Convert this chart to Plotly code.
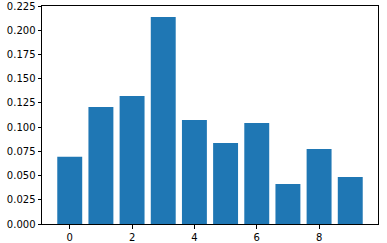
import plotly.graph_objects as go

categories = [0, 1, 2, 3, 4, 5, 6, 7, 8, 9]
values = [0.0695, 0.1208, 0.1321, 0.2136, 0.1073, 0.0836, 0.1042, 0.0413, 0.0774, 0.0485]
x_ticks = [0, 2, 4, 6, 8]
y_ticks = [0.0, 0.025, 0.05, 0.075, 0.1, 0.125, 0.15, 0.175, 0.2, 0.225]

fig = go.Figure(go.Bar(x=categories, y=values, width=0.8,
                       marker=dict(color="#1f77b4", line=dict(width=0))))

font = dict(family="DejaVu Sans", size=10, color="black")
fig.update_layout(
    width=387, height=243,
    margin=dict(l=42, r=9, t=6, b=19, autoexpand=False),
    paper_bgcolor="white", plot_bgcolor="white",
    showlegend=False,
    font=font,
)
fig.update_xaxes(range=[-0.89, 9.89], tickvals=x_ticks, ticktext=[str(v) for v in x_ticks],
                 showline=True, linecolor="black", linewidth=1, mirror=True,
                 ticks="outside", ticklen=3.5, tickcolor="black", tickwidth=0.8,
                 showgrid=False, zeroline=False, tickfont=font, automargin=False)
fig.update_yaxes(range=[0, 0.225], tickvals=y_ticks, ticktext=[f"{v:.3f}" for v in y_ticks],
                 showline=True, linecolor="black", linewidth=1, mirror=True,
                 ticks="outside", ticklen=3.5, tickcolor="black", tickwidth=0.8,
                 showgrid=False, zeroline=False, tickfont=font, automargin=False)

fig.write_html("out.html")
